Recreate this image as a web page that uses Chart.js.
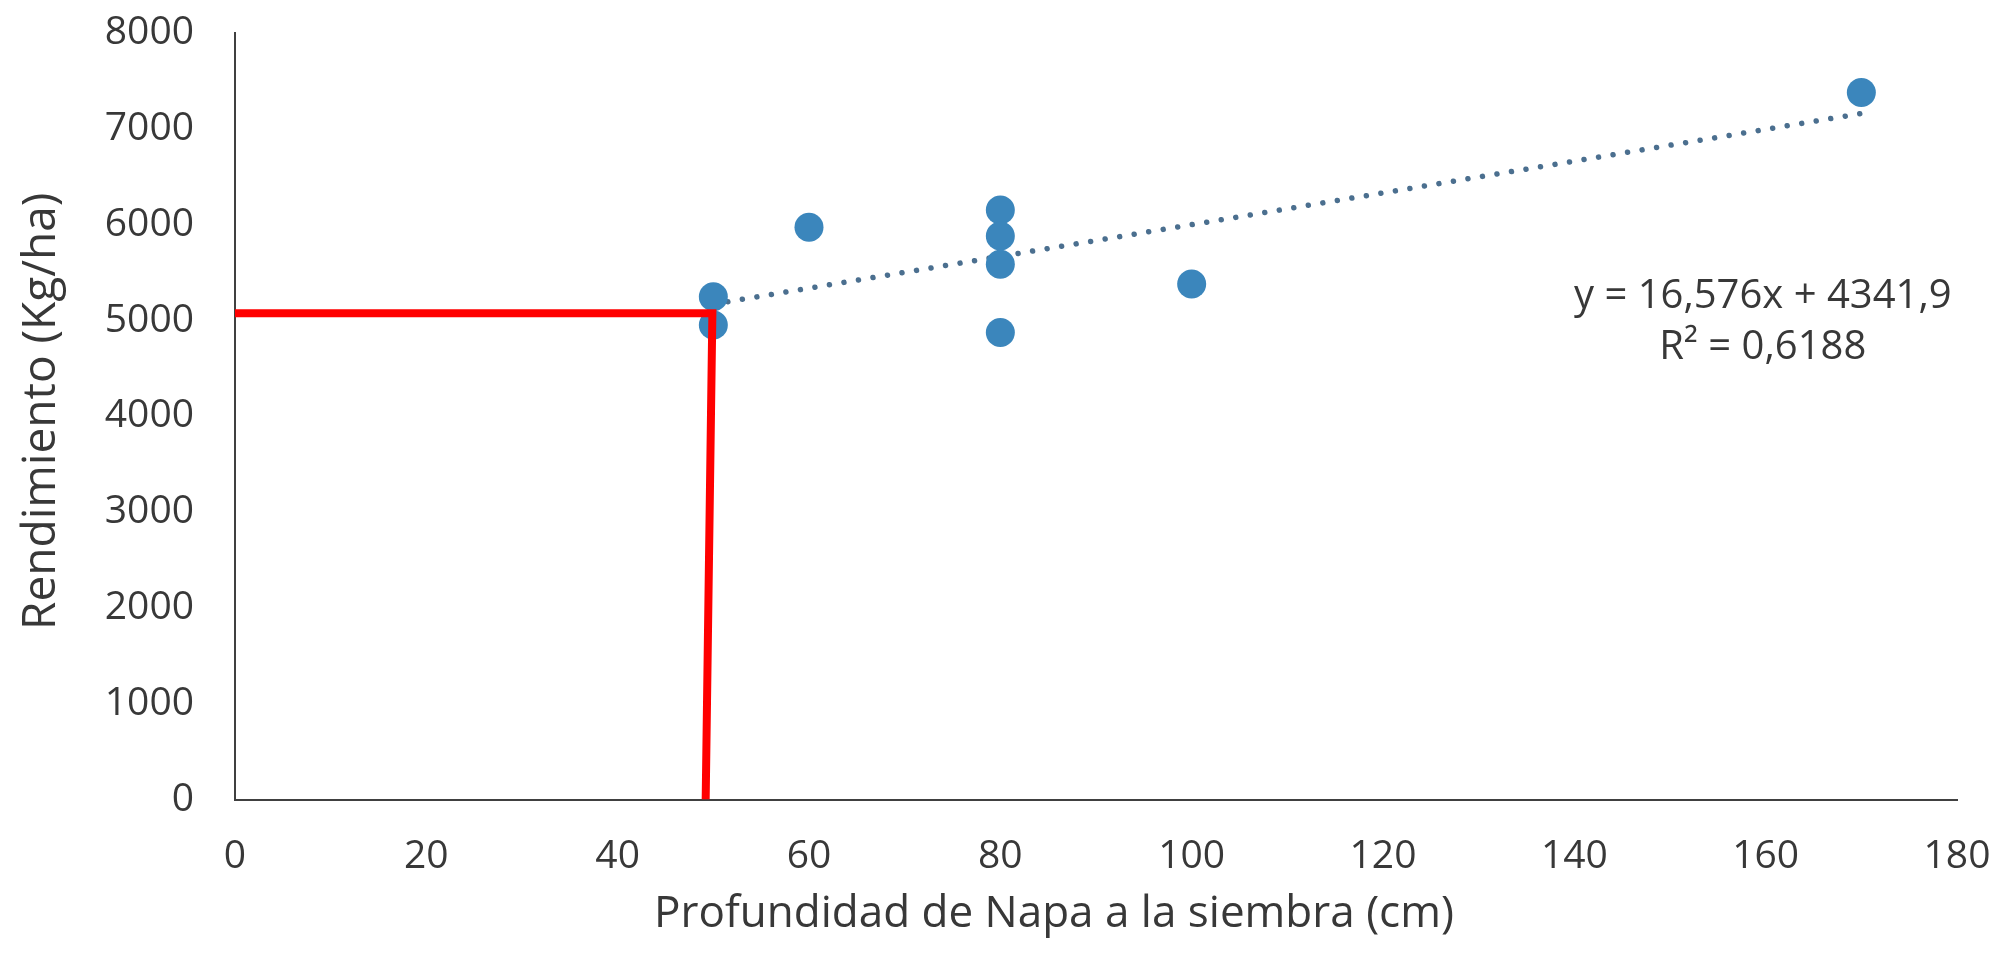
<!DOCTYPE html>
<html>
<head>
<meta charset="utf-8">
<script src="https://cdn.jsdelivr.net/npm/chart.js@4.4.1/dist/chart.umd.min.js"></script>
<style>
  html, body { margin: 0; padding: 0; background: #ffffff; }
  #wrap { width: 2000px; height: 974px; }
</style>
</head>
<body>
<div id="wrap"><canvas id="c" width="2000" height="974"></canvas></div>
<script>
// Water-table depth at sowing (cm) and grain yield (kg/ha) per plot
const depthCm   = [50, 50, 60, 80, 80, 80, 80, 100, 170];
const yieldKgHa = [5248, 4953, 5973, 6153, 5882, 5587, 4873, 5381, 7378];

// Linear fit shown on the chart
const trendSlope = 16.576;
const trendIntercept = 4341.9;
const rSquared = 0.6188;
const trendFrom = 50;
const trendTo = 170;

// Reference guide: reading from the y axis over to the curve and down to x
const guideX = [0, 49.9, 49.2];
const guideY = [5075, 5075, 0];

// Axis ticks
const xTicks = [0, 20, 40, 60, 80, 100, 120, 140, 160, 180];
const yTicks = [0, 1000, 2000, 3000, 4000, 5000, 6000, 7000, 8000];

const xTitle = 'Profundidad de Napa a la siembra (cm)';
const yTitle = 'Rendimiento (Kg/ha)';

const FONT = '"Open Sans", "DejaVu Sans", sans-serif';
const TEXT = '#383838';
const AXIS = '#404040';

const fmt = (v, d) => v.toFixed(d).replace('.', ',');

const points = depthCm.map((x, i) => ({ x, y: yieldKgHa[i] }));
const trend = [trendFrom, trendTo].map(x => ({ x, y: trendSlope * x + trendIntercept }));
const guide = guideX.map((x, i) => ({ x, y: guideY[i] }));

// keep the plot area fixed: no extra room reserved for edge labels
const noEdgePadding = s => {
  s.paddingTop = 0; s.paddingBottom = 0; s.paddingLeft = 0; s.paddingRight = 0;
};

const textPlugin = {
  id: 'chartText',
  afterDraw(chart) {
    const { ctx, chartArea: a, scales } = chart;
    ctx.save();
    ctx.fillStyle = TEXT;
    ctx.textAlign = 'center';
    ctx.textBaseline = 'middle';

    // x axis title
    ctx.font = '44px ' + FONT;
    ctx.fillText(xTitle, (a.left + a.right) / 2 - 42, 914);

    // y axis title, rotated
    ctx.save();
    ctx.font = '46px ' + FONT;
    ctx.translate(42, (a.top + a.bottom) / 2 - 5);
    ctx.rotate(-Math.PI / 2);
    ctx.fillText(yTitle, 0, 0);
    ctx.restore();

    // regression equation and R²
    ctx.font = '40px ' + FONT;
    const ex = scales.x.getPixelForValue(159.7);
    ctx.fillText('y = ' + fmt(trendSlope, 3) + 'x + ' + fmt(trendIntercept, 1), ex, scales.y.getPixelForValue(5245));
    ctx.fillText('R\u00B2 = ' + fmt(rSquared, 4), ex, scales.y.getPixelForValue(4713));
    ctx.restore();
  }
};

new Chart(document.getElementById('c'), {
  type: 'scatter',
  data: {
    datasets: [
      {
        label: 'guía',
        data: guide,
        showLine: true,
        borderColor: '#ff0000',
        borderWidth: 8,
        borderJoinStyle: 'miter',
        pointRadius: 0,
        pointHoverRadius: 0
      },
      {
        label: 'Rendimiento',
        data: points,
        backgroundColor: '#3b86bc',
        borderWidth: 0,
        pointRadius: 14.5,
        pointHoverRadius: 14.5
      },
      {
        label: 'Lineal',
        data: trend,
        showLine: true,
        borderColor: '#4b6f8f',
        borderWidth: 5.5,
        borderDash: [0.01, 14.7],
        borderCapStyle: 'round',
        pointRadius: 0,
        pointHoverRadius: 0
      }
    ]
  },
  options: {
    responsive: false,
    animation: false,
    devicePixelRatio: 1,
    layout: { padding: { top: 33, right: 43, left: 0, bottom: 0 } },
    plugins: {
      legend: { display: false },
      tooltip: { enabled: false },
      title: { display: false }
    },
    scales: {
      x: {
        type: 'linear',
        min: 0,
        max: 180,
        afterBuildTicks: s => { s.ticks = xTicks.map(v => ({ value: v })); },
        afterFit: s => { s.height = 174.5; noEdgePadding(s); },
        grid: { display: false, drawTicks: false },
        border: { display: true, color: AXIS, width: 2 },
        ticks: {
          color: TEXT, font: { family: FONT, size: 39 }, padding: 34, maxRotation: 0,
          callback: v => String(v)
        }
      },
      y: {
        type: 'linear',
        min: 0,
        max: 8000,
        afterBuildTicks: s => { s.ticks = yTicks.map(v => ({ value: v })); },
        afterFit: s => { s.width = 235; noEdgePadding(s); },
        grid: { display: false, drawTicks: false },
        border: { display: true, color: AXIS, width: 2 },
        ticks: {
          color: TEXT, font: { family: FONT, size: 39 }, padding: 41,
          callback: v => String(v)
        }
      }
    }
  },
  plugins: [textPlugin]
});
</script>
</body>
</html>
